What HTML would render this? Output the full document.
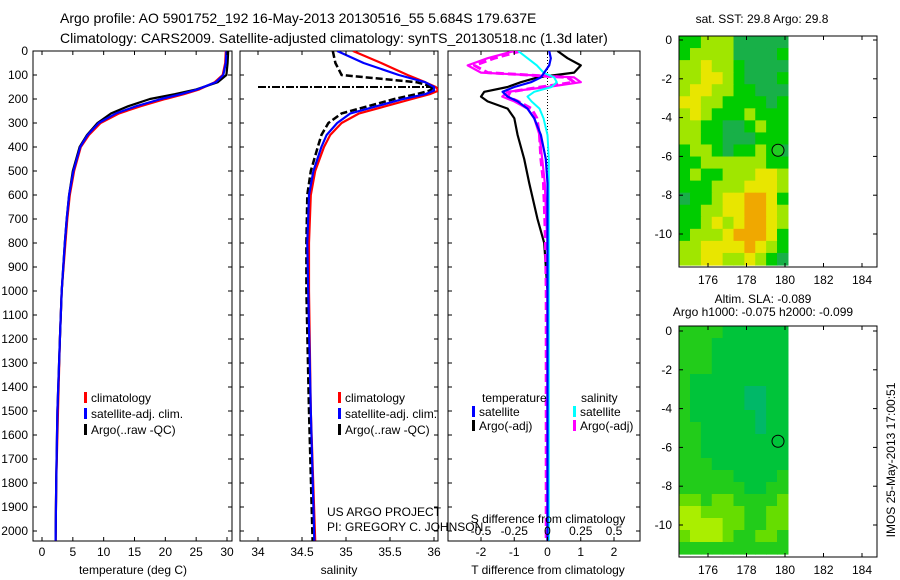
<!DOCTYPE html>
<html><head><meta charset="utf-8">
<style>
html,body{margin:0;padding:0;background:#fff;}
svg{display:block;font-family:"Liberation Sans",sans-serif;}
text{fill:#000;}
</style></head>
<body>
<svg id="fig" width="900" height="580" viewBox="0 0 900 580" xmlns="http://www.w3.org/2000/svg">
<text x="60" y="23" font-size="14">Argo profile: AO 5901752_192 16-May-2013 20130516_55 5.684S 179.637E</text>
<text x="60" y="43" font-size="14">Climatology: CARS2009. Satellite-adjusted climatology: synTS_20130518.nc (1.3d later)</text>
<text x="762" y="23" font-size="12" text-anchor="middle">sat. SST: 29.8 Argo: 29.8</text>
<text x="763" y="303" font-size="12" text-anchor="middle">Altim. SLA: -0.089</text>
<text x="763" y="316" font-size="12" text-anchor="middle">Argo h1000: -0.075 h2000: -0.099</text>
<text transform="translate(895,460) rotate(-90)" font-size="12" text-anchor="middle">IMOS 25-May-2013 17:00:51</text>
<g id="g"></g>
</svg>
<script>
// ---------- data ----------
const depthTicks=[0,100,200,300,400,500,600,700,800,900,1000,1100,1200,1300,1400,1500,1600,1700,1800,1900,2000];
const tempTicks=[0,5,10,15,20,25,30];
const salTicks=[34,34.5,35,35.5,36];
const salTickLabels=["34","34.5","35","35.5","36"];
const dTTicks=[-2,-1,0,1,2];
const dSTicks=[-0.5,-0.25,0,0.25,0.5];
const dSTickLabels=["-0.5","-0.25","0","0.25","0.5"];

const tDepth=[0,50,100,130,160,180,200,230,260,300,350,400,500,600,700,800,1000,1200,1500,1800,2040];
const tempClim=[29.8,29.7,29.3,28,25.5,23,20,16,12.5,9.5,7.6,6.3,5.2,4.5,4.1,3.8,3.2,2.9,2.6,2.3,2.2];
const tempSat=[29.9,29.8,29.4,28.2,25.2,22.5,19.3,15.3,12,9.2,7.4,6.2,5.1,4.4,4.0,3.7,3.2,2.9,2.5,2.3,2.2];
const tempArgo=[30.2,30.1,29.9,28.5,25,21.5,17.5,14,11.2,9,7.3,6.1,5.0,4.4,4.0,3.7,3.2,2.9,2.5,2.3,2.2];

const sDepth=[0,50,100,130,150,165,180,200,230,260,300,350,400,500,600,800,1000,1500,2040];
const salClim=[35.08,35.4,35.7,35.9,36.02,36.05,35.95,35.75,35.45,35.15,34.95,34.82,34.75,34.65,34.6,34.58,34.58,34.6,34.65];
const salSat=[34.9,35.2,35.6,35.9,36.0,36.0,35.9,35.65,35.35,35.05,34.9,34.78,34.72,34.63,34.58,34.56,34.57,34.6,34.64];
const salArgo=[34.85,34.88,34.95,35.8,36.0,35.95,35.8,35.55,35.25,34.95,34.8,34.72,34.68,34.6,34.56,34.55,34.55,34.58,34.62];
const strayDepth=[150,150];
const straySal=[34.0,36.0];

const dDepth=[0,30,60,90,110,130,150,170,190,210,240,280,350,450,550,700,800,1000,2040];
const dTSat=[0.05,0.1,0.05,-0.1,-0.2,-0.5,-1.0,-1.35,-1.2,-0.9,-0.6,-0.4,-0.2,-0.05,0,0,0,0,0];
const dTArgo=[0.3,0.6,1.0,0.8,-0.3,-0.8,-1.2,-1.9,-2.0,-1.8,-1.2,-1.0,-0.9,-0.7,-0.55,-0.3,-0.1,0,0];
const dSSat=[-0.22,-0.15,-0.08,-0.03,0.05,0.07,0.03,-0.1,-0.15,-0.12,-0.06,-0.03,0,0.01,0.01,0.01,0.01,0.01,0.01];
const dSArgo=[-0.25,-0.45,-0.6,-0.5,0.2,0.25,0,-0.3,-0.34,-0.25,-0.15,-0.1,-0.06,-0.04,-0.02,-0.01,0,0,0];
const dSArgoAdj=[-0.2,-0.4,-0.55,-0.45,0.15,0.2,-0.05,-0.28,-0.3,-0.22,-0.12,-0.08,-0.06,-0.05,-0.03,-0.02,-0.015,-0.01,-0.01];

const lonTicks=[176,178,180,182,184];
const latTicks=[0,-2,-4,-6,-8,-10];
const sstGrid=[
[2,2,3,3,3,1,1,1,1,1],[2,3,3,3,3,1,1,1,1,2],[3,3,4,3,3,2,1,1,1,1],[3,3,4,4,3,2,1,1,1,2],
[3,4,4,3,3,2,2,1,1,1],[4,4,3,3,2,2,2,2,1,2],[3,4,3,2,2,2,3,2,2,2],[3,3,2,2,1,1,2,3,2,2],
[3,3,2,2,1,1,1,2,2,2],[2,3,3,2,1,2,2,3,2,1],[2,2,3,3,3,3,3,3,2,2],[2,3,2,2,3,3,3,4,4,3],
[2,2,2,3,3,3,4,4,4,3],[1,2,2,3,4,4,5,5,4,2],[2,2,3,3,4,4,5,5,4,3],[2,2,3,4,3,4,5,5,4,3],
[2,3,3,3,4,5,5,5,4,2],[3,3,4,4,4,4,5,4,3,2],[3,3,4,4,3,3,4,3,2,1]];
const slaGrid=[
[3,3,3,3,2,2,2,2,2,2],[3,3,3,2,2,2,2,2,2,2],[3,3,3,2,2,2,2,2,2,2],[3,3,3,2,2,2,2,2,2,2],
[3,2,2,2,2,2,2,2,2,2],[3,2,2,2,2,2,1,1,2,2],[3,2,2,2,2,2,1,1,2,2],[3,2,2,2,2,2,2,1,2,2],
[3,3,2,2,2,2,2,1,2,2],[3,3,2,2,2,2,2,2,2,2],[3,3,2,2,2,2,2,2,2,2],[3,3,3,2,2,2,2,2,2,2],
[3,3,3,3,3,2,2,2,2,3],[3,3,3,3,3,3,2,2,3,3],[4,4,3,4,4,3,3,3,3,4],[5,5,4,4,4,4,3,3,4,4],
[5,5,5,5,4,4,3,3,4,4],[4,5,5,5,4,3,3,4,4,3],[3,3,3,3,3,3,3,3,3,3]];
const floatLon=[179.637];
const floatLat=[-5.684];

// ---------- helpers ----------
const NS="http://www.w3.org/2000/svg";
const root=document.getElementById('g');
function mk(tag,attrs,parent){const e=document.createElementNS(NS,tag);for(const k in attrs)e.setAttribute(k,attrs[k]);(parent||root).appendChild(e);return e;}
function txt(x,y,s,size,anchor,parent){const t=mk('text',{x:x,y:y,'font-size':size,'text-anchor':anchor||'start'},parent);t.textContent=s;return t;}
const yTop=51, yPer100=24, yBot=541;
function yD(d){return yTop+d/100*yPer100;}
function lin(v0,p0,v1,p1){return v=>p0+(v-v0)*(p1-p0)/(v1-v0);}
const xT=lin(0,42,30,227);
const xS=lin(34,258,36,434);
const xDT=lin(-2,481,2,614);
const xDS=lin(-0.5,481,0.5,614);

function panel(x0,x1,name){
  const g=mk('g',{});
  
  
  const cid='clip-'+name;
  const cp=mk('clipPath',{id:cid},g);mk('rect',{x:x0,y:yTop,width:x1-x0,height:yBot-yTop},cp);
  const r=mk('rect',{x:x0,y:yTop,width:x1-x0,height:yBot-yTop,fill:'none',stroke:'#000','stroke-width':1},g);
  
  
  for(const d of depthTicks){const y=yD(d);mk('line',{x1:x0,x2:x0+4,y1:y,y2:y,stroke:'#000'},g);mk('line',{x1:x1-4,x2:x1,y1:y,y2:y,stroke:'#000'},g);}
  const data=mk('g',{'clip-path':'url(#'+cid+')'},g);
  return {g,data};
}
function line(parent,xs,ds,xf,color,w,dash,name){
  const pts=xs.map((v,i)=>xf(v).toFixed(1)+','+yD(ds[i]).toFixed(1)).join(' ');
  const p=mk('polyline',{points:pts,fill:'none',stroke:color,'stroke-width':w,'stroke-linejoin':'round'},parent);
  if(dash)p.setAttribute('stroke-dasharray',dash);
  
  
  return p;
}
function xticks(g,ticks,labels,xf,y){
  ticks.forEach((t,i)=>{const x=xf(t);mk('line',{x1:x,x2:x,y1:yBot,y2:yBot-4,stroke:'#000'},g);mk('line',{x1:x,x2:x,y1:yTop,y2:yTop+4,stroke:'#000'},g);
    const l=txt(x,y,labels[i],12,'middle',g);
    
    });
}
function legend(g,x,y,color,label){
  mk('rect',{x:x,y:y-10,width:3,height:11,fill:color},g);
  const t=txt(x+7,y,label,12,'start',g);
  
  
}

depthTicks.forEach(d=>{const t=txt(28,yD(d)+4,String(d),12,'end');
  
  });

// ---------- panel 1 ----------
const p1=panel(33,232,'temperature-panel');
line(p1.data,tempClim,tDepth,xT,'#f00',2.2,null,'temp-climatology-line');
line(p1.data,tempArgo,tDepth,xT,'#000',2.2,null,'temp-argo-line');
line(p1.data,tempSat,tDepth,xT,'#00f',2.2,null,'temp-satellite-line');
xticks(p1.g,tempTicks,tempTicks.map(String),xT,556);
let at=txt(133,574,'temperature (deg C)',12,'middle',p1.g);


legend(p1.g,84,402,'#f00','climatology');
legend(p1.g,84,418,'#00f','satellite-adj. clim.');
legend(p1.g,84,434,'#000','Argo(..raw -QC)');

// ---------- panel 2 ----------
const p2=panel(240,438,'salinity-panel');
line(p2.data,straySal,strayDepth,xS,'#000',2,'8,2,2,2','salinity-raw-stray-line');
line(p2.data,salClim,sDepth,xS,'#f00',2.2,null,'salinity-climatology-line');
line(p2.data,salArgo,sDepth,xS,'#000',2.5,'7,3','salinity-argo-line');
line(p2.data,salSat,sDepth,xS,'#00f',2.2,null,'salinity-satellite-line');
xticks(p2.g,salTicks,salTickLabels,xS,556);
at=txt(339,574,'salinity',12,'middle',p2.g);


legend(p2.g,338,402,'#f00','climatology');
legend(p2.g,338,418,'#00f','satellite-adj. clim.');
legend(p2.g,338,434,'#000','Argo(..raw -QC)');
let pt=txt(327,516,'US ARGO PROJECT',12,'start',p2.g);


pt=txt(327,531,'PI: GREGORY C. JOHNSON',12,'start',p2.g);



// ---------- panel 3 ----------
const p3=panel(448,640,'difference-panel');
const zl=mk('line',{x1:xDT(0),x2:xDT(0),y1:yTop,y2:yBot,stroke:'#000','stroke-dasharray':'1,2'},p3.data);


line(p3.data,dTArgo,dDepth,xDT,'#000',2.2,null,'dT-argo-line');
line(p3.data,dSArgo,dDepth,xDS,'#f0f',2.2,null,'dS-argo-line');
line(p3.data,dSArgoAdj,dDepth,xDS,'#f0f',3,'8,4','dS-argo-adj-line');
line(p3.data,dSSat,dDepth,xDS,'#0ff',2,null,'dS-satellite-line');
line(p3.data,dTSat,dDepth,xDT,'#00f',2.2,null,'dT-satellite-line');
xticks(p3.g,dTTicks,dTTicks.map(String),xDT,556);
dSTicks.forEach((t,i)=>{const l=txt(xDS(t),535,dSTickLabels[i],12,'middle',p3.g);
  
  });
at=txt(548,523,'S difference from climatology',12,'middle',p3.g);


at=txt(548,574,'T difference from climatology',12,'middle',p3.g);


at=txt(482,402,'temperature',12,'start',p3.g);


at=txt(581,402,'salinity',12,'start',p3.g);


legend(p3.g,472,416,'#00f','satellite');
legend(p3.g,472,430,'#000','Argo(-adj)');
legend(p3.g,573,416,'#0ff','satellite');
legend(p3.g,573,430,'#f0f','Argo(-adj)');

// ---------- maps ----------
const xLon=lin(176,708,184,862);
const sstColors=['','#18b048','#00cc00','#a0e600','#e8e600','#f0a800'];
const slaColors=['','#00b868','#00c43a','#22cc1a','#66dd00','#aaee00'];
function map(name,fy0,fy1,lat0y,grid,colors,dataBottom){
  const g=mk('g',{});
  
  
  const yLatF=lat=>lat0y+(-lat)*19.4;
  const lonL=174.5, lonR=180.15;
  const rows=grid.length, cols=grid[0].length;
  const cw=(xLon(lonR)-xLon(lonL))/cols;
  const ch=(dataBottom-fy0)/rows;
  grid.forEach((row,r)=>row.forEach((v,c)=>{
    const cell=mk('rect',{x:(xLon(lonL)+c*cw).toFixed(2),y:(fy0+r*ch).toFixed(2),width:(cw+0.6).toFixed(2),height:(ch+0.6).toFixed(2),fill:colors[v]},g);
    
    
  }));
  const fr=mk('rect',{x:679,y:fy0,width:198,height:fy1-fy0,fill:'none',stroke:'#000'},g);
  
  
  lonTicks.forEach(l=>{const x=xLon(l);mk('line',{x1:x,x2:x,y1:fy1,y2:fy1-4,stroke:'#000'},g);mk('line',{x1:x,x2:x,y1:fy0,y2:fy0+4,stroke:'#000'},g);
    const t=txt(x,fy1+17,String(l),12,'middle',g);
    
    });
  latTicks.forEach(l=>{const y=yLatF(l);mk('line',{x1:679,x2:683,y1:y,y2:y,stroke:'#000'},g);mk('line',{x1:873,x2:877,y1:y,y2:y,stroke:'#000'},g);
    const t=txt(672,y+4,String(l),12,'end',g);
    
    });
  const c=mk('circle',{cx:xLon(floatLon[0]),cy:yLatF(floatLat[0]),r:6,fill:name==='sst-map'?'#22cc22':'none',stroke:'#000'},g);
  
  
}
map('sst-map',36,267,40,sstGrid,sstColors,265);
map('sla-map',326,557,331,slaGrid,slaColors,554);
</script>
</body></html>
